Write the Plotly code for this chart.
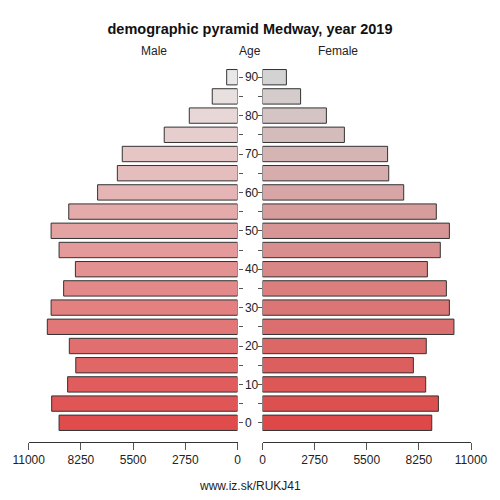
import plotly.graph_objects as go

## datos de la piramide (Medway, 2019)
ages = [0, 5, 10, 15, 20, 25, 30, 35, 40, 45, 50, 55, 60, 65, 70, 75, 80, 85, 90]
male = [9400, 9790, 8950, 8520, 8860, 10020, 9820, 9160, 8540, 9400,
        9820, 8890, 7370, 6330, 6070, 3860, 2540, 1330, 570]
female = [8930, 9280, 8610, 7960, 8640, 10100, 9860, 9700, 8700, 9380,
          9860, 9170, 7450, 6660, 6600, 4320, 3370, 2010, 1260]
x_ticks = [0, 2750, 5500, 8250, 11000]
age_ticks = list(range(0, 95, 5))

## colores: de rojo (abajo) a gris (arriba)
def ramp(c0, c1, n):
    out = []
    for i in range(n):
        t = i / (n - 1)
        rgb = [round(a + (b - a) * t) for a, b in zip(c0, c1)]
        out.append('rgb(%d,%d,%d)' % tuple(rgb))
    return out

col_m = ramp((224, 76, 76), (232, 232, 232), len(ages))
col_f = ramp((222, 72, 72), (211, 211, 211), len(ages))

fig = go.Figure()
fig.add_trace(go.Bar(y=ages, x=male, orientation='h', width=4,
                     marker=dict(color=col_m, line=dict(color='#333333', width=1)),
                     xaxis='x', yaxis='y', showlegend=False))
fig.add_trace(go.Bar(y=ages, x=female, orientation='h', width=4,
                     marker=dict(color=col_f, line=dict(color='#333333', width=1)),
                     xaxis='x2', yaxis='y2', showlegend=False))

font = dict(family='Liberation Sans, Arial, sans-serif', size=12, color='#222222')
xax = dict(tickvals=x_ticks, ticktext=[str(v) for v in x_ticks], ticks='outside',
           ticklen=7, tickcolor='#555555', showline=True, linecolor='#333333',
           showgrid=False, zeroline=False, tickfont=font, automargin=False)
age_text = [str(a) if a % 10 == 0 else '' for a in age_ticks]

fig.update_layout(
    width=500, height=500,
    margin=dict(l=0, r=0, t=58, b=58, pad=0),
    plot_bgcolor='white', paper_bgcolor='white',
    font=font,
    title=dict(text='<b>demographic pyramid Medway, year 2019</b>', x=0.5, xanchor='center',
               y=0.942, yanchor='middle', font=dict(size=14.5, color='#111111')),
    xaxis=dict(xax, domain=[0.0574, 0.475], range=[11000, 0]),
    xaxis2=dict(xax, domain=[0.525, 0.942], range=[0, 11000]),
    yaxis=dict(anchor='x', side='right', range=[-5, 95], tickvals=age_ticks, ticktext=age_text,
               ticks='outside', ticklen=4, tickcolor='#555555', showline=False,
               showgrid=False, zeroline=False, tickfont=font, automargin=False),
    yaxis2=dict(anchor='x2', side='left', range=[-5, 95], tickvals=age_ticks,
                ticks='outside', ticklen=4, tickcolor='#555555', showticklabels=False,
                showline=False, showgrid=False, zeroline=False, automargin=False),
    annotations=[
        dict(text='Male', x=139 / 500, y=1.018, yanchor='middle', xref='paper', yref='paper',
             showarrow=False, font=font),
        dict(text='Age', x=0.5, y=1.018, yanchor='middle', xref='paper', yref='paper',
             showarrow=False, font=font),
        dict(text='Female', x=360 / 500, y=1.018, yanchor='middle', xref='paper', yref='paper',
             showarrow=False, font=font),
        dict(text='www.iz.sk/RUKJ41', x=0.5, y=-0.115, yanchor='middle', xref='paper', yref='paper',
             showarrow=False, font=font),
    ],
)

# sin margen del body para que el grafico quede en (0,0)
fig.write_html("out.html", config={'displayModeBar': False},
               post_script="document.body.style.margin='0';")
